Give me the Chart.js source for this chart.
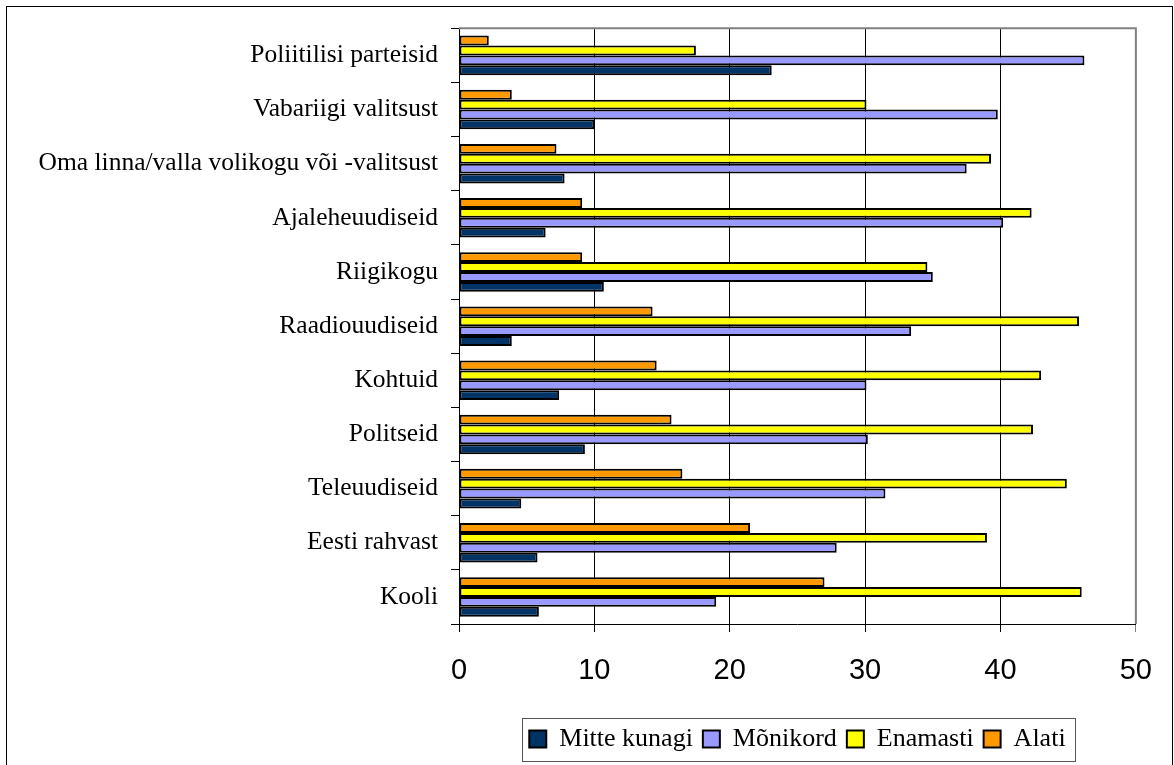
<!DOCTYPE html>
<html>
<head>
<meta charset="utf-8">
<script src="https://cdn.jsdelivr.net/npm/chart.js@4/dist/chart.umd.min.js"></script>
<style>
body { margin: 0; background: #fff; }
canvas { display: block; }
</style>
</head>
<body>
<canvas id="chart" width="1174" height="765"></canvas>
<script>
// categories top to bottom
const categories = [
	"Poliitilisi parteisid",
	"Vabariigi valitsust",
	"Oma linna/valla volikogu või -valitsust",
	"Ajaleheuudiseid",
	"Riigikogu",
	"Raadiouudiseid",
	"Kohtuid",
	"Politseid",
	"Teleuudiseid",
	"Eesti rahvast",
	"Kooli"
];

const mitteKunagi = [23.1, 10.0, 7.8, 6.4, 10.7, 3.9, 7.4, 9.3, 4.6, 5.8, 5.9];
const monikord = [46.2, 39.8, 37.5, 40.2, 35.0, 33.4, 30.1, 30.2, 31.5, 27.9, 19.0];
const enamasti = [17.5, 30.1, 39.3, 42.3, 34.6, 45.8, 43.0, 42.4, 44.9, 39.0, 46.0];
const alati = [2.2, 3.9, 7.2, 9.1, 9.1, 14.3, 14.6, 15.7, 16.5, 21.5, 27.0];

const xTicks = [0, 10, 20, 30, 40, 50];

function series(label, data, color) {
	return {
		label: label,
		data: data,
		backgroundColor: color,
		borderColor: "#000",
		borderWidth: 2,
		borderSkipped: false,
		categoryPercentage: 0.73,
		barPercentage: 1.0
	};
}

// outer frame, plot border, legend box
const framePlugin = {
	id: "frame",
	beforeDraw(chart) {
		let ctx = chart.ctx;
		ctx.save();
		ctx.fillStyle = "#fff";
		ctx.fillRect(0, 0, chart.width, chart.height);
		ctx.restore();
	},
	beforeDatasetsDraw(chart) {
		let ctx = chart.ctx;
		let a = chart.chartArea;
		ctx.save();
		ctx.strokeStyle = "#808080";
		ctx.lineWidth = 2;
		ctx.beginPath();
		ctx.moveTo(a.left, a.top);
		ctx.lineTo(a.right, a.top);
		ctx.lineTo(a.right, a.bottom);
		ctx.stroke();
		ctx.restore();
	},
	afterDraw(chart) {
		let ctx = chart.ctx;
		ctx.save();
		ctx.strokeStyle = "#000";
		ctx.lineWidth = 1;
		ctx.strokeRect(6.5, 6.5, 1166, 762);

		let boxes = chart.legend.legendHitBoxes;
		if (boxes && boxes.length) {
			let first = boxes[0];
			let last = boxes[boxes.length - 1];
			let left = Math.round(first.left - 7) + 0.5;
			let right = Math.round(last.left + last.width + 9) + 0.5;
			let top = Math.round(first.top - 8) + 0.5;
			let bottom = Math.round(first.top + first.height + 9) + 0.5;
			ctx.strokeStyle = "#555";
			ctx.strokeRect(left, top, right - left, bottom - top);
		}
		ctx.restore();
	}
};

let ctx = document.getElementById("chart").getContext("2d");
let chart = new Chart(ctx, {
	type: "bar",
	data: {
		labels: categories,
		datasets: [
			series("Alati", alati, "#FF9900"),
			series("Enamasti", enamasti, "#FFFF00"),
			series("Mõnikord", monikord, "#9999FF"),
			series("Mitte kunagi", mitteKunagi, "#003366")
		]
	},
	options: {
		indexAxis: "y",
		responsive: false,
		animation: false,
		layout: {
			padding: { top: 28, right: 37, left: 0, bottom: 3 }
		},
		scales: {
			x: {
				min: 0,
				max: 50,
				afterBuildTicks(scale) {
					scale.ticks = xTicks.map(v => ({ value: v }));
				},
				afterFit(scale) {
					scale.height = 92;
				},
				grid: {
					color: c => (c.tick && c.tick.value === 50 ? "#808080" : "#000"),
					lineWidth: 1,
					tickLength: 8
				},
				border: { color: "#000", width: 1 },
				ticks: {
					color: "#000",
					padding: 22,
					font: { family: "'Liberation Sans', Arial, sans-serif", size: 29 }
				}
			},
			y: {
				afterFit(scale) {
					scale.width = 459;
				},
				grid: {
					drawOnChartArea: false,
					color: "#000",
					tickLength: 8
				},
				border: { color: "#000", width: 1 },
				ticks: {
					color: "#000",
					padding: 13,
					font: { family: "'Liberation Serif', 'Times New Roman', serif", size: 25.5 }
				}
			}
		},
		plugins: {
			legend: {
				position: "bottom",
				fullSize: false,
				reverse: true,
				labels: {
					color: "#000",
					boxWidth: 17,
					boxHeight: 17,
					padding: 10,
					font: { family: "'Liberation Serif', 'Times New Roman', serif", size: 26 }
				}
			},
			tooltip: { enabled: false }
		}
	},
	plugins: [framePlugin]
});
</script>
</body>
</html>
